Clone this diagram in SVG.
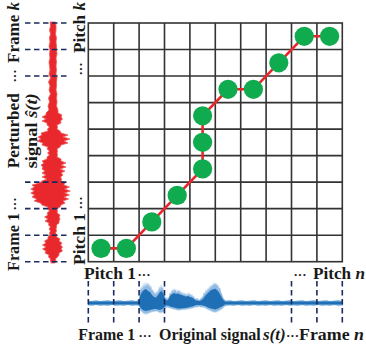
<svg xmlns="http://www.w3.org/2000/svg" width="366" height="344" viewBox="0 0 366 344">
<style>
.t{font-family:"Liberation Serif","Times New Roman",serif;font-weight:bold;font-size:17px;fill:#1a1a1a}
.d{font-family:"Liberation Serif","Times New Roman",serif;font-weight:bold;font-size:13px;fill:#1a1a1a}
.i{font-style:italic}
.grid{stroke:#333;stroke-width:1.6;fill:none}
.dash{stroke:#1b2a5e;stroke-width:1.6;stroke-dasharray:5.5 3.5;fill:none}
.node{fill:#10ab4e}
.conn{stroke:#e8262b;stroke-width:2.6;fill:none}
</style>
<rect width="366" height="344" fill="#fff"/>
<g id="grid" class="grid">
<rect x="88.3" y="23" width="254" height="238.7"/>
<path d="M113.7 23V261.7M139.1 23V261.7M164.5 23V261.7M189.9 23V261.7M215.3 23V261.7M240.7 23V261.7M266.1 23V261.7M291.5 23V261.7M316.9 23V261.7M88.3 49.5H342.3M88.3 76H342.3M88.3 102.6H342.3M88.3 129.1H342.3M88.3 155.6H342.3M88.3 182.1H342.3M88.3 208.6H342.3M88.3 235.2H342.3"/>
</g>
<g id="perturbed-signal">
<polygon fill="#e8282d" stroke="#f05a5a" stroke-width="0.8" stroke-linejoin="miter" points="50,22 50.5,26 49.5,30 50.5,34 49.5,38 50,42 49,46 50,50 49.5,54 50,58 49,62 49.5,66 50,70 49,74 50.5,78 48.5,82 50,86 49,90 50.5,94 48.5,98 49.5,102 48,106 49,110 46,113 46,115 42,117 46,119 42,121 47,123 47,125 49.5,127 47.5,129 48,131 41,133 42,135 38,137 41,139 37,141 43,143 42,145 48,147 47,149 49.5,151 47.5,153 49.5,155 47,157 47,159 42,161 44,163 41,165 43,167 42,169 45,171 42,173 46,175 42,177 47,179 42,181 39.4,183 32,185 34.6,187 30.8,189 34.4,191 30.8,193 34.6,195 32,197 36.8,199 34.2,201 40.6,203 42,205 48,207 48,209 49.5,211 47,213 48,215 44.5,217 48,219 45,221 49,223 48.5,225 50.5,227 49,229 50.5,231 49.5,233 50,235 48,237 48,239 44.5,241 46,243 42.5,245 46,247 42.5,249 46,251 45,253 49,255 48.5,257 50.5,259 50.5,261 51,263 55,263 56,261 55.5,259 57.5,257 59,255 59,253 62.5,251 61,249 62.5,247 60.5,245 62,243 59,241 60,239 56.5,237 57,235 55.5,233 56.5,231 56,229 56.5,227 56.5,225 59,223 59,221 60,219 59,217 60,215 57,213 57.5,211 56.5,209 60,207 61,205 65.2,203 62.9,201 68.6,199 63.75,197 69.45,195 64.6,193 70.3,191 64.6,189 69.45,187 63.75,185 65,183 61,181 61.5,179 60.5,177 63,175 61,173 65,171 60,169 66,167 61,165 66,163 61,161 61,159 57,157 57.5,155 57,153 57.5,151 57,149 60,147 61,145 68,143 64,141 70,139 63,137 68,135 61,133 60,131 57,129 57.5,127 57,125 61,123 60.5,121 62.5,119 61,117 62,115 58,113 58,110 56.5,106 57,102 56.5,98 57,94 56,90 56.5,86 56.5,82 57,78 56,74 56.5,70 56,66 56.5,62 56,58 57,54 56.5,50 56.5,46 56,42 56.5,38 55.5,34 56,30 56,26 55.5,22"/>
</g>
<g id="original-signal">
<polygon fill="#8fbbe2" points="88,300.5 92,301 96,300 100,301 104,300.5 108,300 112,301 116,300.5 120,300 124,301 128,300.5 132,300 136,301 139,299 140,292 141,286 142,290 143,283 144,288 145,282 146,287 147,281.5 148,286 149,283 150,288 151,285 152,291 153,289 154,294 155,291 156,295 157,290 158,293 159,286 160,290 161,284 162,289 163,286 164,293 165,296 166,299 167,297 168,299 169,296 170,292 171,294 172,289 173,292 174,288 175,291 176,289 177,293 178,289 179,292 180,290 181,294 182,291 183,295 184,292 185,295 186,293 187,296 188,292 189,295 190,293 191,296 192,294 193,297 194,296 195,299 197,298 199,300 201,298 203,296 204,292 205,294 206,289 207,292 208,287 209,290 210,285 211,288 212,284 213,286 214,282 215,285 216,282.5 217,286 218,284 219,289 220,287 221,292 222,294 223,297 224,299 226,300.5 230,300 234,301 238,300.5 242,300 246,301 250,300.5 254,300 258,301 262,300.5 266,300 270,301 274,300.5 278,300 282,301 286,300.5 290,300 294,301 298,300.5 302,300 306,301 310,300.5 314,300 318,301 322,300.5 326,300 330,301 334,300.5 338,300 343,301 343,305.5 338,306 334,305 330,306 326,305.5 322,306 318,305 314,306 310,305.5 306,306 302,305 298,306 294,305.5 290,306 286,305 282,306 278,305.5 274,306 270,305 266,306 262,305.5 258,306 254,305 250,306 246,305.5 242,306 238,305 234,306 230,305.5 226,306 224,307 223,308 222,309.5 221,309 220,311 219,310 218,312 217,311 216,313 215,311.5 214,313 213,311 212,312.5 211,310 210,311.5 209,309 208,310.5 207,308.5 206,309 205,307.5 204,308 203,307 201,307.5 199,306.5 197,307.5 195,307 194,308 193,307.5 192,309 191,308 190,309.5 189,308 188,310 187,308.5 186,310 185,309 184,310.5 183,309 182,310.5 181,309 180,311 179,309.5 178,311 177,309.5 176,310.5 175,309 174,310 173,308.5 172,309.5 171,308 170,308.5 169,307.5 168,308 167,307 166,308 165,309 164,311 163,313 162,311.5 161,313.5 160,312 159,313 158,311 157,312 156,310.5 155,312 154,311 153,312.5 152,311 151,313 150,312 149,314 148,312.5 147,315 146,313 145,315 144,312.5 143,314 142,311 141,312 140,309 139,306 136,305.5 132,306 128,305 124,306 120,305.5 116,306 112,305 108,306 104,305.5 100,306 96,305 92,306 88,305.5"/>
<polygon fill="#1f6fb6" points="88,301.5 139,301.5 140,296 142,292 144,290 146,289 148,291 150,292 152,295 154,297 156,297.5 158,295 160,292 162,291 164,296 166,300.5 168,300 170,296 172,294 174,293 176,294 178,293.5 180,294.5 182,295 184,296 186,296.5 188,296 190,297 192,297.5 194,299 196,300.5 200,301 203,299 205,296 207,294 209,292 211,290 213,289.5 215,288.5 217,290 219,292.5 221,296 223,299.5 225,301.5 343,301.5 343,304.5 225,304.5 223,306 221,307 219,308 217,309 215,309.5 213,309 211,308.5 209,308 207,307 205,306 203,305.5 200,305 196,305 194,306 192,306.5 190,307 188,307.5 186,308 184,308 182,308.5 180,308.5 178,308.5 176,308 174,307.5 172,307 170,306.5 168,305.5 166,305.5 164,307.5 162,309 160,310 158,309.5 156,309 154,309 152,309.5 150,310 148,310.5 146,311 144,310.5 142,309.5 140,307 139,304.5 88,304.5"/>
</g>
<g id="frame-marks" class="dash">
<path d="M25 23H68M25 49.5H68M25 76H68M25 182.1H68M25 208.6H68M25 235.2H68M25 261.7H68"/>
<path d="M88.3 281V326M113.7 281V326M139.1 281V326M164.5 281V326M291.5 281V326M316.9 281V326M342.3 281V326"/>
</g>
<g id="connectors" class="conn">
<polyline points="101,248.4 126.4,248.4 151.8,221.9 177.2,195.4 202.6,168.9 202.6,142.3 202.6,115.8 228,89.3 253.4,89.3 278.8,62.8 304.2,36.3 329.6,36.3"/>
</g>
<g id="n1"><circle class="node" cx="101" cy="248.4" r="9.6"/></g>
<g id="n2"><circle class="node" cx="126.4" cy="248.4" r="9.6"/></g>
<g id="n3"><circle class="node" cx="151.8" cy="221.9" r="9.6"/></g>
<g id="n4"><circle class="node" cx="177.2" cy="195.4" r="9.6"/></g>
<g id="n5"><circle class="node" cx="202.6" cy="168.9" r="9.6"/></g>
<g id="n6"><circle class="node" cx="202.6" cy="142.3" r="9.6"/></g>
<g id="n7"><circle class="node" cx="202.6" cy="115.8" r="9.6"/></g>
<g id="n8"><circle class="node" cx="228" cy="89.3" r="9.6"/></g>
<g id="n9"><circle class="node" cx="253.4" cy="89.3" r="9.6"/></g>
<g id="n10"><circle class="node" cx="278.8" cy="62.8" r="9.6"/></g>
<g id="n11"><circle class="node" cx="304.2" cy="36.3" r="9.6"/></g>
<g id="n12"><circle class="node" cx="329.6" cy="36.3" r="9.6"/></g>
<g id="labels">
<text class="t" transform="translate(19,63) rotate(-90)" textLength="61" lengthAdjust="spacingAndGlyphs">Frame <tspan class="i">k</tspan></text>
<text class="d" transform="translate(19,76) rotate(-90)" text-anchor="middle">···</text>
<text class="t" transform="translate(18.5,168.3) rotate(-90)" textLength="75" lengthAdjust="spacingAndGlyphs">Perturbed</text>
<text class="t" transform="translate(37,168.3) rotate(-90)" textLength="75" lengthAdjust="spacingAndGlyphs">signal <tspan class="i">ŝ(t)</tspan></text>
<text class="t" transform="translate(19,271) rotate(-90)" textLength="58" lengthAdjust="spacingAndGlyphs">Frame 1</text>
<text class="d" transform="translate(19,204) rotate(-90)" text-anchor="middle">···</text>
<text class="t" transform="translate(84.5,53) rotate(-90)" textLength="51" lengthAdjust="spacingAndGlyphs">Pitch <tspan class="i">k</tspan></text>
<text class="d" transform="translate(84.5,69) rotate(-90)" text-anchor="middle">···</text>
<text class="t" transform="translate(84.5,265) rotate(-90)" textLength="52" lengthAdjust="spacingAndGlyphs">Pitch 1</text>
<text class="d" transform="translate(84.5,203) rotate(-90)" text-anchor="middle">···</text>
<text class="t" x="84" y="278.5" textLength="52" lengthAdjust="spacingAndGlyphs">Pitch 1</text>
<text class="d" x="144" y="278.5" text-anchor="middle">···</text>
<text class="d" x="300" y="278.5" text-anchor="middle">···</text>
<text class="t" x="313" y="278.5" textLength="52" lengthAdjust="spacingAndGlyphs">Pitch <tspan class="i">n</tspan></text>
<text class="t" x="78.3" y="339.5" textLength="57" lengthAdjust="spacingAndGlyphs">Frame 1</text>
<text class="d" x="145" y="339.5" text-anchor="middle">···</text>
<text class="t" x="159" y="339.5" style="font-size:16px">Original signal</text>
<text class="t i" x="263" y="339.5">s(t)</text>
<text class="d" x="292.5" y="339.5" text-anchor="middle">···</text>
<text class="t" x="299" y="339.5" textLength="65" lengthAdjust="spacingAndGlyphs">Frame <tspan class="i">n</tspan></text>
</g>
</svg>
